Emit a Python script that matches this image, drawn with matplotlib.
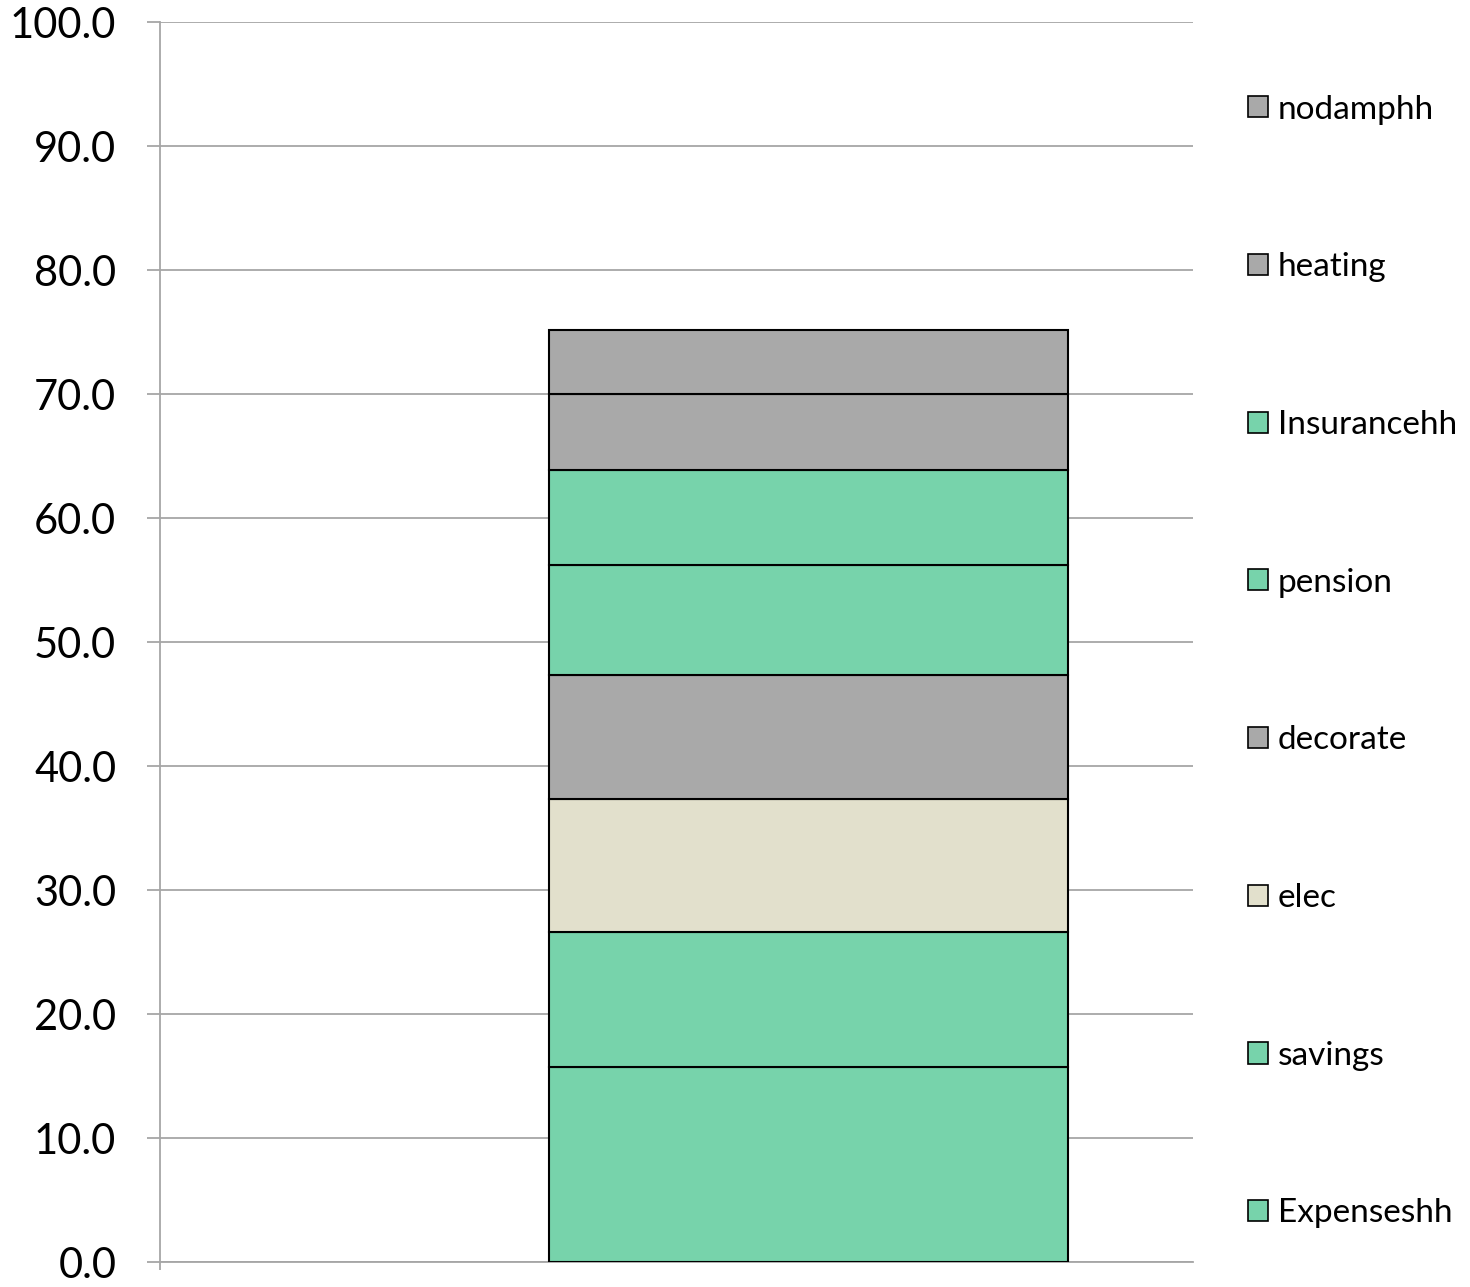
import matplotlib.pyplot as plt
from matplotlib.patches import Rectangle

plt.rcParams['font.family'] = ['Lato', 'DejaVu Sans']

# stacked components, bottom to top
components = ["Expenseshh", "savings", "elec", "decorate",
              "pension", "Insurancehh", "heating", "nodamphh"]
values = [15.7, 10.9, 10.7, 10.0, 8.9, 7.7, 6.1, 5.2]
colors = ["#77d3ab", "#77d3ab", "#e2e0cc", "#a9a9a9",
          "#77d3ab", "#77d3ab", "#a9a9a9", "#a9a9a9"]
yticks = [0, 10, 20, 30, 40, 50, 60, 70, 80, 90, 100]

fig = plt.figure(figsize=(14.7, 12.87), dpi=100)
ax = fig.add_axes([160 / 1470, 1 - 1262 / 1287, 1033 / 1470, 1240 / 1287])

bottom = 0
handles = []
for name, v, c in zip(components, values, colors):
    ax.bar(0, v, bottom=bottom, width=0.4, color=c, edgecolor="black",
           linewidth=1.5, zorder=3)
    handles.append(Rectangle((0, 0), 1, 1, facecolor=c, edgecolor="black",
                             linewidth=1.2))
    bottom += v

ax.set_xlim(-0.5, -0.5 + 1033 / 1297)
ax.set_ylim(0, 100)
ax.set_yticks(yticks)
ax.set_yticklabels([f"{t:.1f}" for t in yticks])
ax.set_xticks([-0.5])
ax.set_xticklabels([""])

ax.yaxis.grid(True, color="#a6a6a6", linewidth=1.3, zorder=0)
ax.set_axisbelow(True)
for side in ["top", "right"]:
    ax.spines[side].set_visible(False)
for side in ["left", "bottom"]:
    ax.spines[side].set_color("#a6a6a6")
    ax.spines[side].set_linewidth(1.3)
ax.tick_params(axis="y", length=9.5, width=1.3, color="#a6a6a6",
               labelsize=30, pad=22)
ax.tick_params(axis="x", length=6, width=1.3, color="#a6a6a6")

fig.legend(handles[::-1], components[::-1], loc="center left",
           bbox_to_anchor=(1248 / 1470, 1 - 661.5 / 1287),
           frameon=False, fontsize=24, borderpad=0, borderaxespad=0,
           handlelength=0.6, handleheight=0.6, handletextpad=0.3,
           labelspacing=3.83)

fig.savefig("out.png", dpi=100)
